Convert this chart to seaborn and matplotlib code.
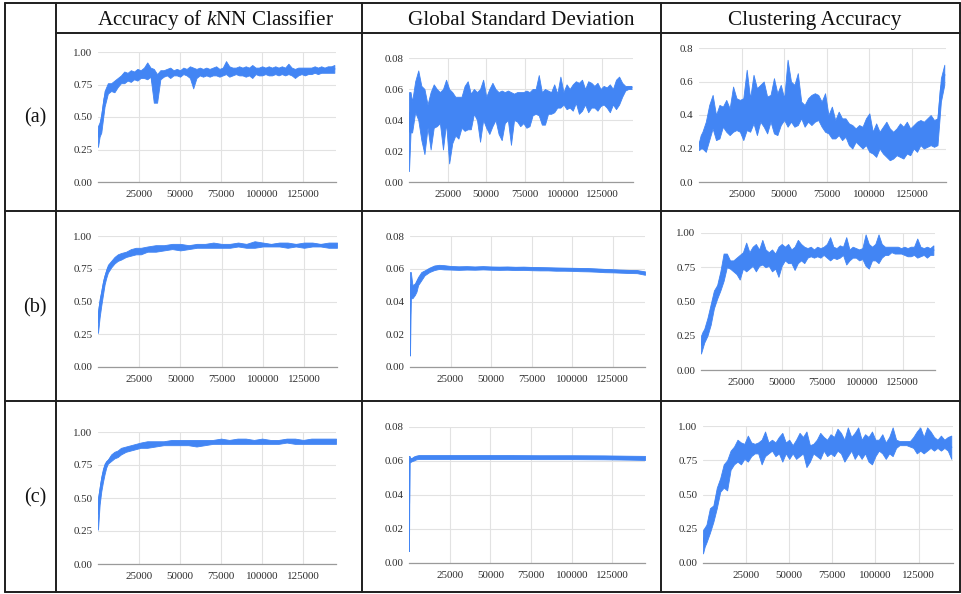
import matplotlib
matplotlib.use("Agg")
import matplotlib.pyplot as plt
from matplotlib.lines import Line2D
import seaborn as sns
import pandas as pd

BLUE = "#4285F4"

col_titles = ["Accuracy of $k$NN Classifier", "Global Standard Deviation", "Clustering Accuracy"]
row_labels = ["(a)", "(b)", "(c)"]
x_ticks = [25000, 50000, 75000, 100000, 125000]

# sampled training steps for the noisy curves
steps = [
    0, 1000, 2000, 4000, 6000, 8000, 10000, 12000, 14000, 16000,
    18000, 20000, 22000, 24000, 26000, 28000, 30000, 32000, 34000, 36000,
    38000, 40000, 42000, 44000, 46000, 48000, 50000, 52000, 54000, 56000,
    58000, 60000, 62000, 64000, 66000, 68000, 70000, 72000, 74000, 76000,
    78000, 80000, 82000, 84000, 86000, 88000, 90000, 92000, 94000, 96000,
    98000, 100000, 102000, 104000, 106000, 108000, 110000, 112000, 114000, 116000,
    118000, 120000, 122000, 124000, 126000, 128000, 130000, 132000, 134000, 136000,
    138000, 140000, 142000, 144000,
]

# steps for the smoother kNN curves (rows b, c)
steps_smooth = [
    0, 1000, 2000, 3000, 4000, 5000, 6000, 8000, 10000, 12000,
    14000, 17000, 20000, 23000, 26000, 30000, 35000, 40000, 45000, 50000,
    55000, 60000, 65000, 70000, 75000, 80000, 85000, 90000, 95000, 100000,
    105000, 110000, 115000, 120000, 125000, 130000, 135000, 140000, 145000,
]

steps_std_b = [
    0, 500, 1500, 3000, 4000, 5000, 7000, 9000, 12000, 15000,
    18000, 21000, 25000, 30000, 35000, 40000, 45000, 50000, 55000, 60000,
    65000, 70000, 75000, 80000, 85000, 90000, 95000, 100000, 105000, 110000,
    115000, 120000, 125000, 130000, 135000, 140000, 145000,
]

steps_std_c = [0, 300, 1000, 2000, 3000, 4500, 6000, 10000, 20000, 40000,
               60000, 80000, 100000, 120000, 135000, 145000]

# (a) kNN accuracy, low / high edge of the noisy band
knn_a_lo = [
    .27, .35, .38, .58, .68, .70, .69, .73, .76, .76,
    .78, .77, .79, .78, .80, .80, .79, .81, .61, .61,
    .79, .81, .82, .80, .82, .82, .81, .83, .82, .80,
    .72, .80, .82, .81, .82, .81, .82, .82, .81, .82,
    .83, .81, .82, .83, .82, .82, .81, .82, .80, .83,
    .82, .82, .83, .82, .82, .83, .82, .83, .82, .83,
    .82, .80, .82, .83, .82, .83, .83, .84, .83, .84,
    .84, .84, .84, .84,
]
knn_a_hi = [
    .43, .46, .52, .70, .76, .76, .78, .80, .82, .85,
    .84, .86, .85, .87, .86, .88, .92, .88, .87, .83,
    .86, .86, .87, .88, .86, .87, .86, .88, .87, .89,
    .88, .87, .88, .87, .88, .87, .88, .89, .87, .88,
    .93, .89, .88, .88, .89, .88, .89, .88, .90, .88,
    .88, .89, .88, .89, .88, .89, .88, .89, .88, .91,
    .88, .87, .88, .88, .88, .88, .88, .89, .88, .89,
    .88, .89, .89, .90,
]

# (a) global standard deviation
std_a_lo = [
    .007, .032, .032, .045, .040, .027, .018, .035, .021, .035,
    .036, .038, .021, .038, .012, .025, .030, .028, .035, .033,
    .034, .034, .044, .040, .026, .040, .035, .031, .036, .040,
    .031, .027, .038, .040, .024, .040, .039, .036, .038, .035,
    .036, .043, .044, .043, .037, .037, .044, .044, .045, .048,
    .048, .050, .047, .048, .046, .051, .044, .046, .050, .045,
    .048, .048, .046, .049, .050, .048, .045, .050, .047, .050,
    .055, .059, .060, .060,
]
std_a_hi = [
    .058, .058, .052, .065, .072, .062, .060, .050, .058, .063,
    .060, .058, .060, .066, .060, .058, .055, .055, .055, .062,
    .065, .057, .060, .058, .060, .066, .055, .060, .064, .060,
    .058, .059, .058, .059, .058, .057, .058, .058, .058, .059,
    .058, .060, .060, .069, .058, .060, .059, .058, .063, .057,
    .068, .058, .063, .060, .063, .065, .064, .066, .060, .065,
    .064, .062, .064, .060, .062, .061, .063, .060, .066, .068,
    .064, .062, .062, .062,
]

# (a) clustering accuracy
clu_a_lo = [
    .19, .20, .20, .18, .25, .32, .25, .26, .33, .30,
    .28, .30, .31, .30, .25, .31, .30, .35, .28, .36,
    .33, .29, .36, .29, .28, .34, .37, .33, .36, .33,
    .34, .38, .33, .36, .34, .36, .37, .33, .30, .29,
    .26, .26, .28, .25, .27, .22, .20, .24, .22, .20,
    .22, .18, .17, .15, .20, .17, .15, .13, .14, .16,
    .15, .14, .17, .16, .20, .18, .22, .20, .21, .22,
    .21, .22, .48, .58,
]
clu_a_hi = [
    .24, .28, .30, .36, .46, .52, .40, .46, .45, .49,
    .44, .57, .50, .49, .50, .67, .50, .64, .56, .58,
    .60, .51, .52, .62, .53, .58, .50, .73, .60, .58,
    .65, .48, .46, .50, .52, .53, .52, .48, .53, .40,
    .45, .37, .42, .38, .38, .35, .34, .32, .34, .33,
    .38, .41, .30, .35, .30, .33, .36, .32, .30, .32,
    .35, .33, .36, .32, .34, .36, .37, .36, .38, .40,
    .37, .38, .62, .70,
]

# (b) kNN accuracy
knn_b_lo = [
    .26, .38, .47, .55, .63, .68, .72, .76, .79, .81,
    .82, .84, .85, .86, .86, .88, .88, .89, .90, .89,
    .90, .91, .91, .91, .91, .91, .92, .91, .91, .92,
    .92, .92, .91, .92, .91, .92, .92, .91, .91,
]
knn_b_hi = [
    .42, .52, .58, .65, .70, .74, .78, .81, .84, .86,
    .87, .88, .90, .91, .91, .92, .93, .93, .94, .94,
    .93, .94, .94, .95, .94, .94, .95, .94, .96, .95,
    .94, .95, .95, .94, .95, .95, .94, .95, .95,
]

# (b) global standard deviation
std_b_lo = [
    .007, .042, .042, .044, .046, .050, .053, .056, .058, .0592,
    .0599, .0596, .0595, .0593, .0595, .0594, .0596, .0594, .0593, .0594,
    .0592, .0593, .0591, .0590, .0590, .0588, .0588, .0587, .0585, .0584,
    .0582, .0579, .0578, .0576, .0574, .0573, .0563,
]
std_b_hi = [
    .058, .058, .050, .051, .053, .055, .058, .059, .0607, .0620,
    .0624, .0622, .0617, .0615, .0616, .0614, .0616, .0614, .0613, .0614,
    .0612, .0613, .0611, .0610, .0609, .0608, .0607, .0606, .0605, .0604,
    .0602, .0599, .0597, .0595, .0593, .0592, .0584,
]

# (b) clustering accuracy
clu_b_lo = [
    .12, .16, .20, .25, .33, .45, .52, .58, .65, .75,
    .74, .72, .70, .66, .74, .72, .74, .76, .72, .76,
    .77, .75, .76, .72, .74, .68, .76, .80, .78, .78,
    .73, .78, .80, .78, .82, .83, .82, .83, .82, .84,
    .82, .80, .82, .81, .82, .84, .77, .80, .82, .82,
    .80, .81, .76, .74, .80, .80, .78, .82, .84, .84,
    .86, .85, .85, .85, .84, .83, .83, .84, .82, .83,
    .84, .82, .84, .84,
]
clu_b_hi = [
    .25, .28, .30, .38, .48, .58, .62, .72, .85, .85,
    .80, .80, .82, .84, .86, .93, .86, .90, .92, .88,
    .95, .88, .86, .88, .85, .90, .92, .90, .92, .88,
    .90, .95, .92, .90, .89, .90, .88, .90, .89, .90,
    .92, .97, .90, .89, .91, .90, .97, .88, .90, .89,
    .88, .89, .99, .92, .90, .92, .99, .92, .90, .90,
    .90, .90, .90, .89, .90, .89, .90, .90, .96, .90,
    .89, .90, .89, .91,
]

# (c) kNN accuracy
knn_c_lo = [
    .26, .45, .55, .62, .68, .73, .76, .78, .80, .81,
    .83, .85, .86, .87, .88, .88, .89, .90, .90, .90,
    .90, .89, .90, .91, .91, .91, .91, .91, .91, .91,
    .91, .91, .92, .91, .91, .91, .91, .91, .91,
]
knn_c_hi = [
    .50, .58, .66, .72, .76, .78, .79, .83, .85, .86,
    .88, .89, .90, .91, .92, .93, .93, .93, .94, .94,
    .94, .94, .94, .94, .95, .94, .95, .95, .94, .95,
    .94, .94, .95, .95, .94, .95, .95, .95, .95,
]

# (c) global standard deviation
std_c_lo = [.007, .059, .0595, .060, .0603, .0610, .0612, .0612, .0612, .0612,
            .0612, .0611, .0611, .0610, .0608, .0606]
std_c_hi = [.063, .063, .0615, .062, .0627, .0632, .0635, .0635, .0635, .0635,
            .0635, .0634, .0634, .0633, .0631, .0630]

# (c) clustering accuracy
clu_c_lo = [
    .07, .12, .15, .22, .30, .40, .52, .55, .53, .68,
    .72, .74, .72, .76, .74, .78, .80, .80, .72, .78,
    .80, .82, .78, .80, .74, .80, .76, .80, .76, .78,
    .80, .70, .74, .80, .78, .76, .82, .78, .80, .78,
    .82, .80, .74, .78, .82, .76, .80, .76, .80, .74,
    .72, .78, .82, .80, .76, .80, .78, .84, .86, .86,
    .86, .85, .84, .80, .82, .80, .82, .84, .82, .84,
    .82, .84, .82, .76,
]
clu_c_hi = [
    .24, .26, .28, .40, .42, .55, .62, .72, .75, .82,
    .85, .90, .88, .87, .93, .88, .87, .88, .90, .96,
    .88, .90, .88, .92, .95, .88, .90, .86, .90, .95,
    .92, .96, .86, .87, .90, .95, .92, .90, .94, .92,
    .98, .95, .90, .99, .92, .95, .99, .90, .94, .92,
    .96, .90, .90, .94, .88, .92, .99, .90, .89, .89,
    .89, .89, .92, .96, .99, .92, .99, .96, .92, .90,
    .93, .90, .92, .93,
]

acc_ticks = [0, 0.25, 0.5, 0.75, 1.0]
std_ticks = [0, 0.02, 0.04, 0.06, 0.08]
clu_a_ticks = [0, 0.2, 0.4, 0.6, 0.8]

W, H = 962, 594

# panel boxes in pixels: left, top, right, bottom of the plot area
panels = [
    ((98, 52, 336, 182), steps, knn_a_lo, knn_a_hi, acc_ticks, "{:.2f}"),
    ((409, 58, 633, 182), steps, std_a_lo, std_a_hi, std_ticks, "{:.2f}"),
    ((699, 48, 946, 182), steps, clu_a_lo, clu_a_hi, clu_a_ticks, "{:.1f}"),
    ((98, 236, 337, 367), steps_smooth, knn_b_lo, knn_b_hi, acc_ticks, "{:.2f}"),
    ((410, 236, 645, 367), steps_std_b, std_b_lo, std_b_hi, std_ticks, "{:.2f}"),
    ((701, 233, 935, 370), steps, clu_b_lo, clu_b_hi, acc_ticks, "{:.2f}"),
    ((98, 432, 336, 564), steps_smooth, knn_c_lo, knn_c_hi, acc_ticks, "{:.2f}"),
    ((409, 427, 645, 563), steps_std_c, std_c_lo, std_c_hi, std_ticks, "{:.2f}"),
    ((703, 426, 953, 563), steps, clu_c_lo, clu_c_hi, acc_ticks, "{:.2f}"),
]

sns.set_style("white")
plt.rcParams["font.family"] = ["Liberation Serif", "DejaVu Serif"]
plt.rcParams["mathtext.fontset"] = "custom"
plt.rcParams["mathtext.rm"] = "Liberation Serif"
plt.rcParams["mathtext.it"] = "Liberation Serif:italic"

fig = plt.figure(figsize=(W / 100, H / 100), dpi=100)
fig.patch.set_facecolor("white")

for box, x, lo, hi, yticks, fmt in panels:
    left, top, right, bottom = box
    ax = fig.add_axes([left / W, 1 - bottom / H, (right - left) / W, (bottom - top) / H])
    ax.set_facecolor("none")
    df = pd.DataFrame({"step": x + x, "value": lo + hi})
    # the band spans the min/max of the noisy run at each step
    sns.lineplot(data=df, x="step", y="value", ax=ax, color=BLUE, linewidth=1.5,
                 estimator="mean", errorbar=("pi", 100),
                 err_kws={"alpha": 1, "linewidth": 0.6, "edgecolor": BLUE})
    ax.set_xlim(0, 145000)
    ax.set_ylim(yticks[0], yticks[-1])
    ax.set_xticks(x_ticks)
    ax.set_xticklabels([str(t) for t in x_ticks])
    ax.set_yticks(yticks)
    ax.set_yticklabels([fmt.format(t) for t in yticks])
    ax.grid(True, color="#e2e2e2", linewidth=0.8)
    ax.set_axisbelow(True)
    for s in ["top", "right", "left"]:
        ax.spines[s].set_visible(False)
    ax.spines["bottom"].set_color("#9a9a9a")
    ax.spines["bottom"].set_linewidth(0.9)
    ax.tick_params(length=0, labelsize=7.9, labelcolor="#2e2e2e")
    ax.tick_params(axis="x", pad=6)
    ax.tick_params(axis="y", pad=4)
    ax.set_xlabel("")
    ax.set_ylabel("")

# table rules
line_kw = dict(color="#1e1e1e", linewidth=1.4, transform=fig.transFigure)
for xv in [5, 56, 362, 661, 960]:
    fig.add_artist(Line2D([xv / W, xv / W], [1 - 3 / H, 1 - 592 / H], **line_kw))
for yv, x0 in [(3, 5), (33, 56), (211, 5), (401, 5), (592, 5)]:
    fig.add_artist(Line2D([x0 / W, 960 / W], [1 - yv / H, 1 - yv / H], **line_kw))

for title, cx in zip(col_titles, [215, 521, 815]):
    fig.text(cx / W, 1 - 25 / H, title, ha="center", va="baseline",
             fontsize=15.2, color="#111111")

for label, cy in zip(row_labels, [118, 308, 498]):
    fig.text(35 / W, 1 - cy / H, label, ha="center", va="center",
             fontsize=14.5, color="#111111")

fig.savefig("out.png", dpi=100, facecolor="white")
